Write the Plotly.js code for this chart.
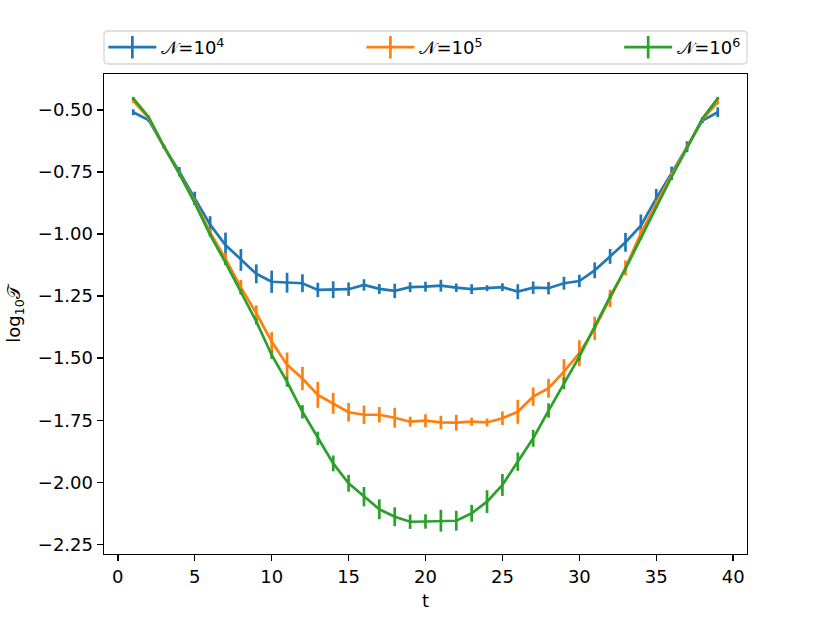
<!DOCTYPE html>
<html>
<head>
<meta charset="utf-8">
<script src="https://cdn.plot.ly/plotly-3.0.1.min.js"></script>
<style>
  body { margin: 0; background: #fff; }
  #graph { width: 830px; height: 623px; }
</style>
</head>
<body>
<div id="graph"></div>
<script>
var t = [];
for (var i = 1; i <= 39; i++) t.push(i);

// N = 10^4
var y4 = [-0.509, -0.540, -0.648, -0.749, -0.856, -0.962, -1.044, -1.104, -1.160, -1.192,
          -1.196, -1.198, -1.225, -1.224, -1.222, -1.205, -1.221, -1.229, -1.214, -1.212,
          -1.208, -1.216, -1.222, -1.218, -1.214, -1.232, -1.216, -1.218, -1.198, -1.189,
          -1.146, -1.090, -1.033, -0.966, -0.856, -0.755, -0.648, -0.543, -0.509];
var e4 = [0.012, 0.008, 0.008, 0.019, 0.027, 0.034, 0.050, 0.044, 0.038, 0.045,
          0.040, 0.036, 0.029, 0.034, 0.027, 0.023, 0.020, 0.029, 0.020, 0.020,
          0.024, 0.017, 0.020, 0.012, 0.016, 0.030, 0.025, 0.025, 0.026, 0.025,
          0.032, 0.030, 0.038, 0.045, 0.038, 0.027, 0.022, 0.010, 0.020];

// N = 10^5
var y5 = [-0.463, -0.532, -0.648, -0.755, -0.869, -0.993, -1.100, -1.215, -1.319, -1.433,
          -1.527, -1.582, -1.648, -1.682, -1.718, -1.728, -1.728, -1.740, -1.756, -1.752,
          -1.759, -1.760, -1.756, -1.759, -1.742, -1.716, -1.655, -1.621, -1.554, -1.480,
          -1.380, -1.259, -1.136, -0.997, -0.876, -0.762, -0.648, -0.538, -0.469];
var e5 = [0.008, 0.006, 0.006, 0.008, 0.010, 0.015, 0.025, 0.030, 0.032, 0.038,
          0.050, 0.047, 0.052, 0.042, 0.037, 0.037, 0.031, 0.040, 0.020, 0.026,
          0.027, 0.032, 0.016, 0.016, 0.027, 0.048, 0.037, 0.038, 0.050, 0.052,
          0.047, 0.035, 0.030, 0.020, 0.012, 0.010, 0.008, 0.006, 0.008];

// N = 10^6
var y6 = [-0.453, -0.528, -0.648, -0.757, -0.875, -1.003, -1.115, -1.232, -1.352, -1.487,
          -1.595, -1.716, -1.823, -1.924, -2.004, -2.058, -2.109, -2.139, -2.159, -2.158,
          -2.155, -2.155, -2.125, -2.078, -2.011, -1.917, -1.823, -1.711, -1.601, -1.494,
          -1.373, -1.252, -1.140, -1.017, -0.890, -0.769, -0.654, -0.534, -0.453];
var e6 = [0.006, 0.006, 0.006, 0.006, 0.008, 0.008, 0.010, 0.010, 0.012, 0.016,
          0.020, 0.027, 0.027, 0.032, 0.034, 0.039, 0.040, 0.038, 0.029, 0.029,
          0.044, 0.040, 0.034, 0.046, 0.044, 0.037, 0.034, 0.029, 0.024, 0.016,
          0.012, 0.010, 0.006, 0.006, 0.006, 0.006, 0.006, 0.006, 0.006];

var names = ['\u{1D4A9}=10<sup>4</sup>', '\u{1D4A9}=10<sup>5</sup>', '\u{1D4A9}=10<sup>6</sup>'];
var colors = ['#1f77b4', '#ff7f0e', '#2ca02c'];
var series = [[y4, e4], [y5, e5], [y6, e6]];
var legendIds = ['legend', 'legend2', 'legend3'];
var legendX = [-0.001, 0.4003, 0.8012];

var lw = 2.7;
var font = 'DejaVu Sans, sans-serif';

var graphData = [];
series.forEach(function (s, k) {
    graphData.push({
        x: t,
        y: s[0],
        mode: 'lines',
        showlegend: false,
        line: { color: colors[k], width: lw },
        error_y: { type: 'data', array: s[1], visible: true, width: 0, thickness: lw, color: colors[k] }
    });
});
// legend handles: line with a vertical bar, like the errorbar handle
series.forEach(function (s, k) {
    graphData.push({
        x: [null],
        y: [null],
        mode: 'lines+markers',
        name: names[k],
        legend: legendIds[k],
        line: { color: colors[k], width: lw },
        marker: { symbol: 'line-ns-open', size: 16, color: colors[k], line: { color: colors[k], width: lw } }
    });
});

// rounded legend frame in paper coords
var x0 = 0, x1 = 1, yb = 1.0208, yt = 1.0896, rx = 0.0062, ry = 0.0083;
var framePath = 'M' + (x0 + rx) + ',' + yb + ' L' + (x1 - rx) + ',' + yb +
    ' Q' + x1 + ',' + yb + ' ' + x1 + ',' + (yb + ry) +
    ' L' + x1 + ',' + (yt - ry) + ' Q' + x1 + ',' + yt + ' ' + (x1 - rx) + ',' + yt +
    ' L' + (x0 + rx) + ',' + yt + ' Q' + x0 + ',' + yt + ' ' + x0 + ',' + (yt - ry) +
    ' L' + x0 + ',' + (yb + ry) + ' Q' + x0 + ',' + yb + ' ' + (x0 + rx) + ',' + yb + ' Z';

var axisCommon = {
    showgrid: false,
    zeroline: false,
    showline: true,
    mirror: true,
    linecolor: '#000',
    linewidth: 1.4,
    ticks: 'outside',
    ticklen: 6,
    tickwidth: 1.4,
    tickcolor: '#000',
    tickfont: { family: font, size: 18, color: '#000' }
};

function legendAt(xp) {
    return {
        orientation: 'h',
        x: xp,
        xanchor: 'left',
        y: 1.0552,
        yanchor: 'middle',
        bgcolor: 'rgba(0,0,0,0)',
        borderwidth: 0,
        itemwidth: 48,
        font: { family: font, size: 18, color: '#000' }
    };
}

var layout = {
    width: 830,
    height: 623,
    paper_bgcolor: '#fff',
    plot_bgcolor: '#fff',
    margin: { l: 104, r: 83, t: 74, b: 69 },
    font: { family: font, size: 18, color: '#000' },
    xaxis: Object.assign({}, axisCommon, {
        range: [-0.9, 40.9],
        tick0: 0,
        dtick: 5,
        title: { text: 't', font: { family: font, size: 18 }, standoff: 8 }
    }),
    yaxis: Object.assign({}, axisCommon, {
        range: [-2.289, -0.355],
        tick0: -0.5,
        dtick: 0.25,
        tickformat: '.2f',
        title: { text: 'log<sub>10</sub>\u{1D4AF}', font: { family: font, size: 18 }, standoff: 12 }
    }),
    showlegend: true,
    legend: legendAt(legendX[0]),
    legend2: legendAt(legendX[1]),
    legend3: legendAt(legendX[2]),
    shapes: [{
        type: 'path',
        xref: 'paper',
        yref: 'paper',
        path: framePath,
        line: { color: '#d6d6d6', width: 1.3 },
        fillcolor: 'rgba(0,0,0,0)'
    }]
};

Plotly.newPlot('graph', graphData, layout, { displayModeBar: false, staticPlot: true });
</script>
</body>
</html>
